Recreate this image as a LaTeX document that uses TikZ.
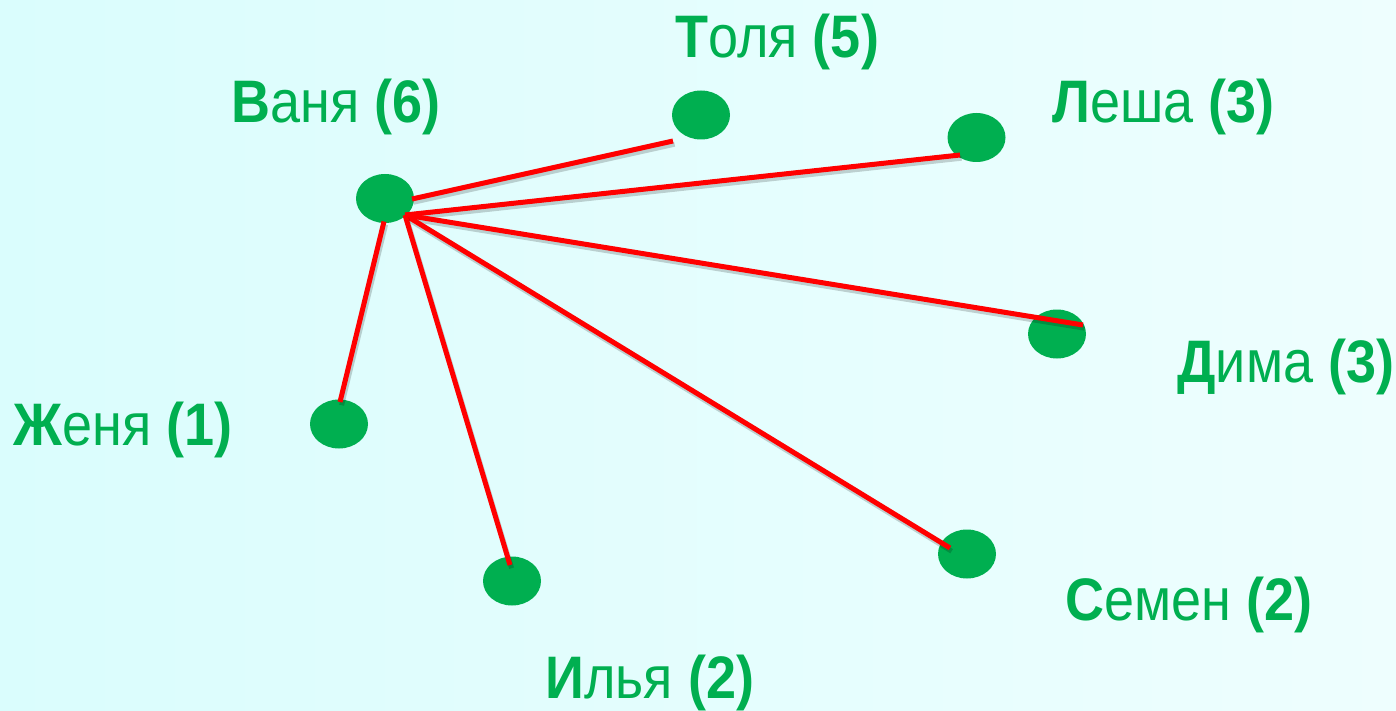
\documentclass[tikz,border=0pt]{standalone}
\usepackage{fontspec}
\setmainfont{Liberation Sans}
\usetikzlibrary{shapes.geometric,calc}
\definecolor{dotgreen}{HTML}{00AF50}
\definecolor{bgleft}{RGB}{218,253,253}
\definecolor{bgright}{RGB}{238,254,254}
\newcommand\nm[3]{\scalebox{0.9}[1]{{\bfseries #1}#2 {\bfseries(#3)}}}
\tikzset{
  dot/.style={ellipse, fill=dotgreen, draw=none, minimum width=29pt, minimum height=24.5pt, inner sep=0pt},
  lbl/.style={anchor=base west, inner sep=0pt, text=dotgreen, font=\fontsize{30pt}{34pt}\selectfont},
  edge/.style={draw=red, line width=2.5pt,
    preaction={draw=black, opacity=0.18, line width=2.5pt, transform canvas={shift={(0.8pt,-1.6pt)}}}}
}
\begin{document}
\begin{tikzpicture}[x=0.5pt,y=-0.5pt]
\useasboundingbox (0,0) rectangle (1396,711);
\shade[left color=bgleft, right color=bgright] (0,0) rectangle (1396,711);

\node[dot] (vanya) at (385,198.5) {};
\node[dot] (tolya) at (701,115) {};
\node[dot] (lesha) at (976.5,137.5) {};
\node[dot] (dima)  at (1057,334) {};
\node[dot] (zhenya) at (339,424) {};
\node[dot] (ilya)  at (512,581) {};
\node[dot] (semen) at (967,554) {};

\coordinate (hub) at ($(vanya)+(20,16.5)$);
\coordinate (vtop) at ($(vanya)+(27,0.5)$);
\coordinate (vbot) at ($(vanya)+(-1,23)$);
\coordinate (etolya) at ($(tolya)+(-28,26)$);
\coordinate (elesha) at ($(lesha)+(-16.5,17.5)$);
\coordinate (edima) at ($(dima)+(26,-9)$);
\coordinate (esemen) at ($(semen)+(-17,-6)$);
\coordinate (eilya) at ($(ilya)+(-2,-16)$);
\coordinate (ezhenya) at ($(zhenya)+(1,-22)$);

\path[edge] (vtop) -- (etolya);
\path[edge] (hub) -- (elesha);
\path[edge] (hub) -- (edima);
\path[edge] (hub) -- (esemen);
\path[edge] (hub) -- (eilya);
\path[edge] (vbot) -- (ezhenya);

\node[lbl] (tvanya) at (231,123) {\nm{В}{аня}{6}};
\node[lbl] (ttolya) at (675,58) {\nm{Т}{оля}{5}};
\node[lbl] (tlesha) at (1052,123) {\nm{Л}{еша}{3}};
\node[lbl] (tdima) at (1177,382) {\nm{Д}{има}{3}};
\node[lbl] (tzhenya) at (13,445) {\nm{Ж}{еня}{1}};
\node[lbl] (tilya) at (545,698) {\nm{И}{лья}{2}};
\node[lbl] (tsemen) at (1065,620) {\nm{С}{емен}{2}};
\end{tikzpicture}
\end{document}
